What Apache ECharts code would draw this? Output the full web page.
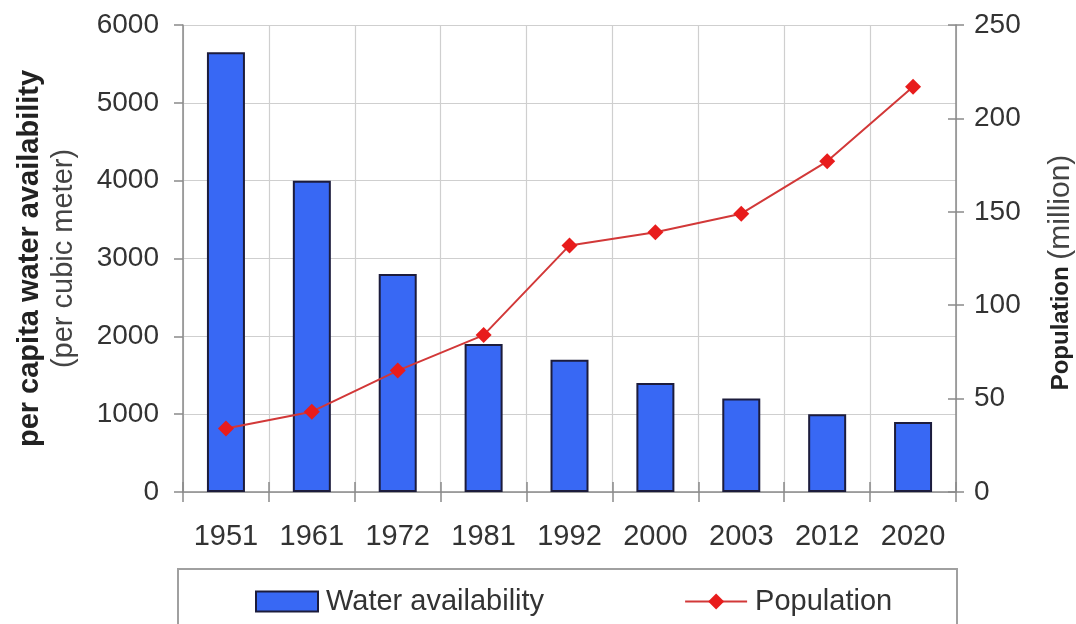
<!DOCTYPE html>
<html>
<head>
<meta charset="utf-8">
<style>
  html, body { margin: 0; padding: 0; background: #fff; }
  #chart { width: 1076px; height: 624px; }
</style>
<script src="https://cdn.jsdelivr.net/npm/echarts@6/dist/echarts.min.js"></script>
</head>
<body>
<div id="chart"></div>
<script>
// Census years on the category axis
const years = ['1951', '1961', '1972', '1981', '1992', '2000', '2003', '2012', '2020'];
// Per capita water availability, cubic metres
const waterAvailability = [5650, 4000, 2800, 1900, 1700, 1400, 1200, 1000, 900];
// Population, millions
const population = [34, 43, 65, 84, 132, 139, 149, 177, 217];

const FONT = '"Liberation Sans", Arial, sans-serif';
const AXIS_GREY = '#8a8a8a';
const GRID_GREY = '#cfcfcf';
const TEXT = '#333333';
const plain = v => String(v);

const chart = echarts.init(document.getElementById('chart'), null, { renderer: 'canvas' });

chart.setOption({
  animation: false,
  textStyle: { fontFamily: FONT },
  grid: { left: 183, right: 120, top: 25, bottom: 132, containLabel: false, outerBoundsMode: 'none' },
  legend: {
    left: 250,
    top: 582,
    itemWidth: 62,
    itemHeight: 20,
    itemGap: 140,
    textStyle: { fontFamily: FONT, fontSize: 29, color: TEXT, padding: [0, 0, 0, 3] },
    data: [
      { name: 'Water availability', icon: 'rect' },
      { name: 'Population' }
    ]
  },
  graphic: [
    {
      type: 'rect',
      z: -1,
      shape: { x: 178, y: 569, width: 779, height: 80 },
      style: { fill: '#fff', stroke: '#a0a0a0', lineWidth: 2 }
    }
  ],
  xAxis: [
    {
      type: 'category',
      data: years,
      boundaryGap: true,
      axisLine: { lineStyle: { color: AXIS_GREY, width: 1.5 } },
      axisTick: { show: true, length: 10, alignWithLabel: false, lineStyle: { color: AXIS_GREY, width: 1.5 } },
      splitLine: { show: true, lineStyle: { color: GRID_GREY, width: 1.2 } },
      axisLabel: { fontFamily: FONT, fontSize: 29, color: TEXT, margin: 30 }
    },
    {
      // inner half of the category ticks
      type: 'category',
      data: years,
      position: 'bottom',
      axisLine: { show: false },
      axisTick: { show: true, inside: true, length: 10, lineStyle: { color: AXIS_GREY, width: 1.5 } },
      axisLabel: { show: false },
      splitLine: { show: false }
    }
  ],
  yAxis: [
    {
      type: 'value',
      min: 0,
      max: 6000,
      interval: 1000,
      position: 'left',
      name: '{b|per capita water availability}\n{n|(per cubic meter)}',
      nameLocation: 'middle',
      nameRotate: 90,
      nameGap: 102,
      nameTextStyle: {
        rich: {
          b: { fontFamily: FONT, fontSize: 29, fontWeight: 'bold', color: '#222', lineHeight: 34 },
          n: { fontFamily: FONT, fontSize: 29, color: '#444', lineHeight: 34 }
        }
      },
      axisLine: { show: true, lineStyle: { color: AXIS_GREY, width: 1.5 } },
      axisTick: { show: true, length: 9, lineStyle: { color: AXIS_GREY, width: 1.5 } },
      splitLine: { show: true, lineStyle: { color: GRID_GREY, width: 1.2 } },
      axisLabel: { fontFamily: FONT, fontSize: 28, color: TEXT, margin: 24, formatter: plain }
    },
    {
      type: 'value',
      min: 0,
      max: 250,
      interval: 50,
      position: 'right',
      name: '{b|Population}  {n|(million)}',
      nameLocation: 'middle',
      nameRotate: 90,
      nameGap: 90,
      nameTextStyle: {
        rich: {
          b: { fontFamily: FONT, fontSize: 24, fontWeight: 'bold', color: '#222' },
          n: { fontFamily: FONT, fontSize: 30, color: '#444', padding: [0, 28, 0, 0] }
        }
      },
      axisLine: { show: true, lineStyle: { color: AXIS_GREY, width: 1.5 } },
      axisTick: { show: true, length: 8, lineStyle: { color: AXIS_GREY, width: 1.5 } },
      splitLine: { show: false },
      axisLabel: { fontFamily: FONT, fontSize: 28, color: TEXT, margin: 18, formatter: plain }
    },
    {
      // inner half of the population ticks
      type: 'value',
      min: 0,
      max: 250,
      interval: 50,
      position: 'right',
      axisLine: { show: false },
      axisTick: { show: true, inside: true, length: 8, lineStyle: { color: AXIS_GREY, width: 1.5 } },
      axisLabel: { show: false },
      splitLine: { show: false }
    }
  ],
  series: [
    {
      name: 'Water availability',
      type: 'bar',
      xAxisIndex: 0,
      yAxisIndex: 0,
      data: waterAvailability,
      barWidth: 38,
      itemStyle: { color: '#3868f4', borderColor: '#1c1c3c', borderWidth: 2 }
    },
    {
      name: 'Population',
      type: 'line',
      xAxisIndex: 0,
      yAxisIndex: 1,
      data: population,
      symbol: 'diamond',
      symbolSize: 16,
      itemStyle: { color: '#e81c1c' },
      lineStyle: { color: '#d23838', width: 2 },
      z: 5
    }
  ]
});
</script>
</body>
</html>
